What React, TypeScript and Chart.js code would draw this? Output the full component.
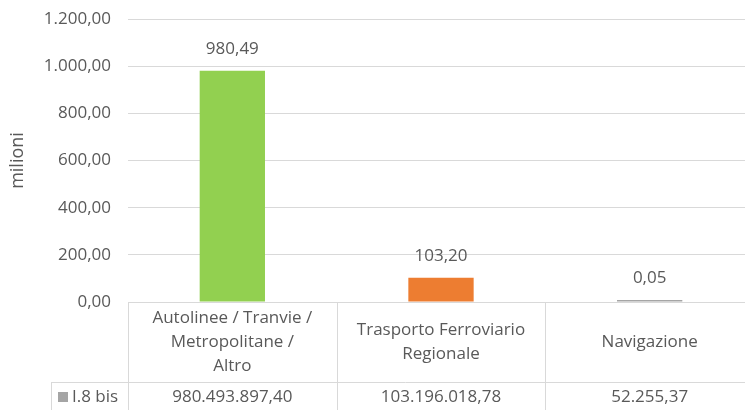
import React, { useEffect, useRef } from "react";
import { Chart, registerables } from "chart.js";

Chart.register(...registerables);

const categories: string[][] = [
  ["Autolinee / Tranvie /", "Metropolitane /", "Altro"],
  ["Trasporto Ferroviario", "Regionale"],
  ["Navigazione"],
];
const seriesName = "I.8 bis";
const valuesMillions = [980.49, 103.2, 0.05];
const tableValues = ["980.493.897,40", "103.196.018,78", "52.255,37"];
const barColors = ["#92D050", "#ED7D31", "#A5A5A5"];
const yTicks = { min: 0, max: 1200, step: 200 };
const yTitle = "milioni";

const FONT = "'Open Sans', 'Liberation Sans', sans-serif";
const TEXT = "#595959";
const GRID = "#D9D9D9";

function fmtIt(v: number, dec = 2): string {
  const neg = v < 0;
  const s = Math.abs(v).toFixed(dec);
  const [ip, fp] = s.split(".");
  const grouped = ip.replace(/\B(?=(\d{3})+(?!\d))/g, ".");
  return (neg ? "-" : "") + grouped + (fp ? "," + fp : "");
}

const tablePlugin = {
  id: "dataTable",
  afterDraw(chart: any) {
    const { ctx, chartArea } = chart;
    const xs = chart.scales.x;
    const n = categories.length;
    const colW = xs.width / n;
    const top = chartArea.bottom;
    const rowY = 382;
    const bottom = chart.height;
    const legendLeft = 51;
    ctx.save();
    ctx.strokeStyle = GRID;
    ctx.lineWidth = 1;
    ctx.beginPath();
    for (let i = 0; i <= n; i++) {
      const x = Math.round(xs.left + i * colW) + 0.5;
      ctx.moveTo(x, top);
      ctx.lineTo(x, bottom);
    }
    ctx.moveTo(legendLeft + 0.5, rowY);
    ctx.lineTo(legendLeft + 0.5, bottom);
    ctx.moveTo(legendLeft, rowY + 0.5);
    ctx.lineTo(chart.width, rowY + 0.5);
    ctx.stroke();

    ctx.fillStyle = TEXT;
    ctx.font = `17px ${FONT}`;
    ctx.textAlign = "center";
    ctx.textBaseline = "middle";
    const midY = (top + rowY) / 2 + 0.5;
    const lh = 24;
    categories.forEach((lines, i) => {
      const cx = xs.getPixelForValue(i);
      const start = midY - ((lines.length - 1) * lh) / 2;
      lines.forEach((ln, j) => ctx.fillText(ln, cx, start + j * lh));
      ctx.fillText(tableValues[i], cx, 397);
    });
    ctx.fillStyle = "#A5A5A5";
    ctx.fillRect(58, 392, 10, 10);
    ctx.fillStyle = TEXT;
    ctx.textAlign = "left";
    ctx.fillText(seriesName, 72, 397);
    ctx.restore();
  },
};

const labelPlugin = {
  id: "barLabels",
  afterDatasetsDraw(chart: any) {
    const { ctx } = chart;
    const meta = chart.getDatasetMeta(0);
    ctx.save();
    ctx.fillStyle = TEXT;
    ctx.font = `17px ${FONT}`;
    ctx.textAlign = "center";
    ctx.textBaseline = "middle";
    meta.data.forEach((el: any, i: number) => {
      ctx.fillText(fmtIt(valuesMillions[i]), el.x, el.y - 22);
    });
    ctx.restore();
  },
};

export default function App() {
  const ref = useRef<HTMLCanvasElement>(null);
  useEffect(() => {
    if (!ref.current) return;
    const chart = new Chart(ref.current, {
      type: "bar",
      data: {
        labels: categories.map((c) => c.join(" ")),
        datasets: [
          {
            label: seriesName,
            data: valuesMillions,
            backgroundColor: barColors,
            borderWidth: 0,
            categoryPercentage: 1,
            barPercentage: 0.313,
            minBarLength: 2,
          },
        ],
      },
      options: {
        responsive: false,
        animation: false,
        devicePixelRatio: 1,
        layout: { padding: { left: 0, right: 6, top: 19, bottom: 0 } },
        plugins: {
          legend: { display: false },
          tooltip: { enabled: false },
        },
        scales: {
          x: {
            grid: { display: false, drawTicks: false },
            border: { display: false },
            ticks: { display: false },
            afterFit: (s: any) => {
              s.height = 108;
              s.paddingLeft = 0;
              s.paddingRight = 0;
            },
          },
          y: {
            min: yTicks.min,
            max: yTicks.max,
            border: { display: false },
            grid: { color: GRID, drawTicks: false, lineWidth: 1 },
            ticks: {
              stepSize: yTicks.step,
              padding: 17,
              color: TEXT,
              font: { family: FONT, size: 17 },
              callback: (v: any) => fmtIt(Number(v)),
            },
            title: {
              display: true,
              text: yTitle,
              color: TEXT,
              font: { family: FONT, size: 18 },
              padding: { top: 7, bottom: 0 },
            },
            afterFit: (s: any) => {
              s.width = 128;
              s.paddingTop = 0;
              s.paddingBottom = 0;
            },
          },
        },
      },
      plugins: [tablePlugin, labelPlugin],
    });
    return () => chart.destroy();
  }, []);
  return (
    <div
      style={{
        position: "fixed",
        left: 0,
        top: 0,
        width: 745,
        height: 410,
        overflow: "hidden",
        background: "#fff",
      }}
    >
      <canvas ref={ref} width={760} height={410} style={{ display: "block" }} />
    </div>
  );
}
